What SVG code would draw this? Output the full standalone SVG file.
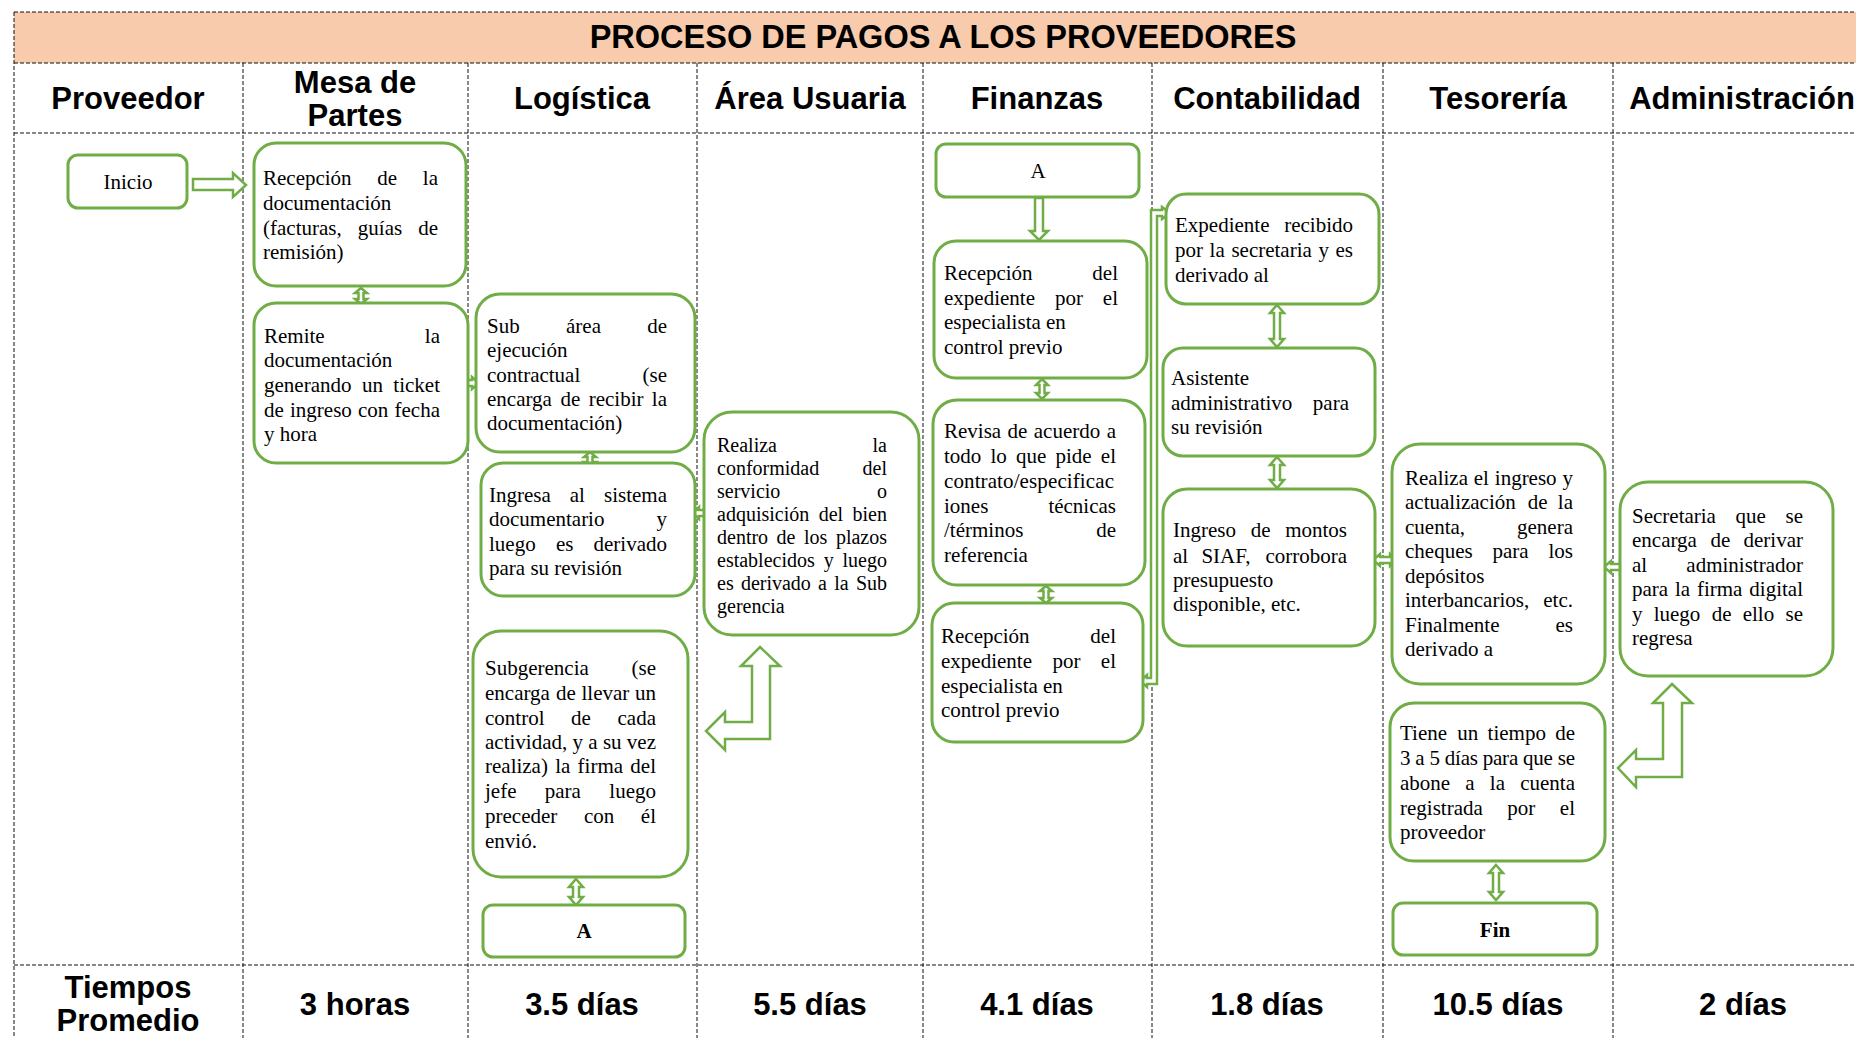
<svg xmlns="http://www.w3.org/2000/svg" width="1856" height="1038" viewBox="0 0 1856 1038">
<style>
.box{fill:#fff;stroke:#70AD47;stroke-width:3}
.t{font-family:"Liberation Serif","Times New Roman",serif;font-size:21px;fill:#000}
.t20{font-size:20px}
.b{font-weight:bold}
.e{text-anchor:end}
.m{text-anchor:middle}
.hd{font-family:"Liberation Sans",Arial,sans-serif;font-weight:bold;font-size:31px;text-anchor:middle;fill:#000}
.ti{font-size:32.5px}
.grid{stroke:#111;stroke-width:1;stroke-dasharray:4 2;fill:none}
.arr{fill:#fff;stroke:#70AD47;stroke-width:2.5;stroke-linejoin:miter}
</style>
<rect width="1856" height="1038" fill="#fff"/>
<g id="table">
<rect x="14" y="12" width="1860" height="51" fill="#F8CBAD"/>
<path class="grid" d="M14 12H1856M14 63H1856M14 133H1856M14 965H1856M14 12V1038M243 63V1038M468 63V1038M697 63V1038M923 63V1038M1152 63V1038M1383 63V1038M1613 63V1038"/>
<text class="hd ti" x="943" y="48">PROCESO DE PAGOS A LOS PROVEEDORES</text>
<text class="hd" x="128" y="109">Proveedor</text>
<text class="hd" x="355" y="93">Mesa de</text>
<text class="hd" x="355" y="126">Partes</text>
<text class="hd" x="582" y="109">Logística</text>
<text class="hd" x="810" y="109">Área Usuaria</text>
<text class="hd" x="1037" y="109">Finanzas</text>
<text class="hd" x="1267" y="109">Contabilidad</text>
<text class="hd" x="1498" y="109">Tesorería</text>
<text class="hd" x="1742" y="109">Administración</text>
<text class="hd" x="128" y="998">Tiempos</text>
<text class="hd" x="128" y="1031">Promedio</text>
<text class="hd" x="355" y="1015">3 horas</text>
<text class="hd" x="582" y="1015">3.5 días</text>
<text class="hd" x="810" y="1015">5.5 días</text>
<text class="hd" x="1037" y="1015">4.1 días</text>
<text class="hd" x="1267" y="1015">1.8 días</text>
<text class="hd" x="1498" y="1015">10.5 días</text>
<text class="hd" x="1743" y="1015">2 días</text>
</g>
<g id="connectors">
<polygon class="arr" points="193,179 233,179 233,173 246,185 233,197 233,190 193,190"/>
<polygon class="arr" points="361,288 367,293 363.5,293 363.5,299 367,299 361,304 355,299 358.5,299 358.5,293 355,293"/>
<polygon class="arr" points="456,383 463,377 463,380 472,380 472,377 479,383 472,389 472,386 463,386 463,389"/>
<polygon class="arr" points="590,452 596,457 592.5,457 592.5,462 596,462 590,467 584,462 587.5,462 587.5,457 584,457"/>
<polygon class="arr" points="693,513 699,507 699,510 705,510 705,507 711,513 705,519 705,516 699,516 699,519"/>
<polygon class="arr" points="760,647 780,666 770,666 770,739 725,739 725,750 706,731 725,712 725,722 752,722 752,666 741,666"/>
<polygon class="arr" points="576,879 583,887 579,887 579,897 583,897 576,905 569,897 573,897 573,887 569,887"/>
<polygon class="arr" points="1035,198 1043,198 1043,231 1048,231 1039,240 1030,231 1035,231"/>
<polygon class="arr" points="1042,379 1048,385 1044.5,385 1044.5,393 1048,393 1042,399 1036,393 1039.5,393 1039.5,385 1036,385"/>
<polygon class="arr" points="1046,586 1052,591 1048.5,591 1048.5,598 1052,598 1046,603 1040,598 1043.5,598 1043.5,591 1040,591"/>
<polygon class="arr" points="1140,681 1147,675 1147,678 1151,678 1151,210 1162,210 1162,207 1170,213 1162,219 1162,216 1157,216 1157,684 1147,684 1147,687"/>
<polygon class="arr" points="1277,305 1284,313 1280,313 1280,339 1284,339 1277,347 1270,339 1274,339 1274,313 1270,313"/>
<polygon class="arr" points="1277,457 1284,465 1280,465 1280,480 1284,480 1277,488 1270,480 1274,480 1274,465 1270,465"/>
<polygon class="arr" points="1373,560 1380,554 1380,557 1390,557 1390,554 1397,560 1390,566 1390,563 1380,563 1380,566"/>
<polygon class="arr" points="1604,567 1611,561 1611,564 1620,564 1620,561 1627,567 1620,573 1620,570 1611,570 1611,573"/>
<polygon class="arr" points="1672,684 1692,703 1682,703 1682,777 1636,777 1636,787 1618,768 1636,750 1636,759 1663,759 1663,703 1653,703"/>
<polygon class="arr" points="1496,865 1503,873 1499,873 1499,892 1503,892 1496,900 1489,892 1493,892 1493,873 1489,873"/>
</g>
<g id="inicio">
<rect class="box" x="68" y="155" width="119" height="53" rx="10"/>
<text class="t m" x="128" y="189">Inicio</text>
</g>
<g id="recepcion_documentacion">
<rect class="box" x="254" y="143" width="212" height="143" rx="22"/>
<text class="t" y="185"><tspan x="263">Recepción</tspan><tspan x="377.3">de</tspan><tspan x="438" class="e">la</tspan></text>
<text class="t" x="263" y="210">documentación</text>
<text class="t" y="235"><tspan x="263">(facturas,</tspan><tspan x="357.8">guías</tspan><tspan x="438" class="e">de</tspan></text>
<text class="t" x="263" y="259">remisión)</text>
</g>
<g id="remite">
<rect class="box" x="254" y="303" width="214" height="160" rx="22"/>
<text class="t" y="343"><tspan x="264">Remite</tspan><tspan x="440" class="e">la</tspan></text>
<text class="t" x="264" y="367">documentación</text>
<text class="t" y="392"><tspan x="264">generando</tspan><tspan x="361.9">un</tspan><tspan x="440" class="e">ticket</tspan></text>
<text class="t" y="417"><tspan x="264">de</tspan><tspan x="290">ingreso</tspan><tspan x="358">con</tspan><tspan x="440" class="e">fecha</tspan></text>
<text class="t" x="264" y="441">y hora</text>
</g>
<g id="sub_area">
<rect class="box" x="476" y="294" width="219" height="158" rx="24"/>
<text class="t" y="333"><tspan x="487">Sub</tspan><tspan x="566">área</tspan><tspan x="667" class="e">de</tspan></text>
<text class="t" x="487" y="357">ejecución</text>
<text class="t" y="382"><tspan x="487">contractual</tspan><tspan x="667" class="e">(se</tspan></text>
<text class="t" y="406"><tspan x="487">encarga</tspan><tspan x="560.6">de</tspan><tspan x="588.7">recibir</tspan><tspan x="667" class="e">la</tspan></text>
<text class="t" x="487" y="430">documentación)</text>
</g>
<g id="ingresa">
<rect class="box" x="481" y="463" width="214" height="133" rx="22"/>
<text class="t" y="502"><tspan x="489">Ingresa</tspan><tspan x="569.8">al</tspan><tspan x="667" class="e">sistema</tspan></text>
<text class="t" y="526"><tspan x="489">documentario</tspan><tspan x="667" class="e">y</tspan></text>
<text class="t" y="551"><tspan x="489">luego</tspan><tspan x="555.9">es</tspan><tspan x="667" class="e">derivado</tspan></text>
<text class="t" x="489" y="575">para su revisión</text>
</g>
<g id="conformidad">
<rect class="box" x="704" y="412" width="215" height="223" rx="28"/>
<text class="t t20" y="452"><tspan x="717">Realiza</tspan><tspan x="887" class="e">la</tspan></text>
<text class="t t20" y="475"><tspan x="717">conformidad</tspan><tspan x="887" class="e">del</tspan></text>
<text class="t t20" y="498"><tspan x="717">servicio</tspan><tspan x="887" class="e">o</tspan></text>
<text class="t t20" y="521"><tspan x="717">adquisición</tspan><tspan x="818.7">del</tspan><tspan x="887" class="e">bien</tspan></text>
<text class="t t20" y="544"><tspan x="717">dentro</tspan><tspan x="776.6">de</tspan><tspan x="804">los</tspan><tspan x="887" class="e">plazos</tspan></text>
<text class="t t20" y="567"><tspan x="717">establecidos</tspan><tspan x="823.7">y</tspan><tspan x="887" class="e">luego</tspan></text>
<text class="t t20" y="590"><tspan x="717">es</tspan><tspan x="740.9">derivado</tspan><tspan x="818.1">a</tspan><tspan x="834.2">la</tspan><tspan x="887" class="e">Sub</tspan></text>
<text class="t t20" x="717" y="613">gerencia</text>
</g>
<g id="subgerencia">
<rect class="box" x="473" y="631" width="215" height="246" rx="28"/>
<text class="t" y="675"><tspan x="485">Subgerencia</tspan><tspan x="656" class="e">(se</tspan></text>
<text class="t" y="700"><tspan x="485">encarga</tspan><tspan x="556">de</tspan><tspan x="581.5">llevar</tspan><tspan x="656" class="e">un</tspan></text>
<text class="t" y="725"><tspan x="485">control</tspan><tspan x="571.1">de</tspan><tspan x="656" class="e">cada</tspan></text>
<text class="t" y="749"><tspan x="485">actividad,</tspan><tspan x="572.5">y</tspan><tspan x="588.3">a</tspan><tspan x="602.9">su</tspan><tspan x="656" class="e">vez</tspan></text>
<text class="t" y="773"><tspan x="485">realiza)</tspan><tspan x="555.2">la</tspan><tspan x="577.6">firma</tspan><tspan x="656" class="e">del</tspan></text>
<text class="t" y="798"><tspan x="485">jefe</tspan><tspan x="544.8">para</tspan><tspan x="656" class="e">luego</tspan></text>
<text class="t" y="823"><tspan x="485">preceder</tspan><tspan x="583.9">con</tspan><tspan x="656" class="e">él</tspan></text>
<text class="t" x="485" y="848">envió.</text>
</g>
<g id="conector_a_logistica">
<rect class="box" x="483" y="905" width="202" height="52" rx="10"/>
<text class="t b m" x="584" y="938">A</text>
</g>
<g id="conector_a_finanzas">
<rect class="box" x="936" y="144" width="203" height="53" rx="10"/>
<text class="t m" x="1038" y="178">A</text>
</g>
<g id="recepcion_expediente_1">
<rect class="box" x="934" y="241" width="213" height="137" rx="22"/>
<text class="t" y="280"><tspan x="944">Recepción</tspan><tspan x="1118" class="e">del</tspan></text>
<text class="t" y="305"><tspan x="944">expediente</tspan><tspan x="1054.9">por</tspan><tspan x="1118" class="e">el</tspan></text>
<text class="t" x="944" y="329">especialista en</text>
<text class="t" x="944" y="354">control previo</text>
</g>
<g id="revisa">
<rect class="box" x="933" y="400" width="212" height="185" rx="24"/>
<text class="t" y="438"><tspan x="944">Revisa</tspan><tspan x="1007.6">de</tspan><tspan x="1033.8">acuerdo</tspan><tspan x="1116" class="e">a</tspan></text>
<text class="t" y="463"><tspan x="944">todo</tspan><tspan x="990.5">lo</tspan><tspan x="1016">que</tspan><tspan x="1055.5">pide</tspan><tspan x="1116" class="e">el</tspan></text>
<text class="t" x="944" y="488" textLength="170" lengthAdjust="spacing">contrato/especificac</text>
<text class="t" y="513"><tspan x="944">iones</tspan><tspan x="1116" class="e">técnicas</tspan></text>
<text class="t" y="537"><tspan x="944">/términos</tspan><tspan x="1116" class="e">de</tspan></text>
<text class="t" x="944" y="562">referencia</text>
</g>
<g id="recepcion_expediente_2">
<rect class="box" x="932" y="603" width="211" height="139" rx="22"/>
<text class="t" y="643"><tspan x="941">Recepción</tspan><tspan x="1116" class="e">del</tspan></text>
<text class="t" y="668"><tspan x="941">expediente</tspan><tspan x="1052.4">por</tspan><tspan x="1116" class="e">el</tspan></text>
<text class="t" x="941" y="693">especialista en</text>
<text class="t" x="941" y="717">control previo</text>
</g>
<g id="expediente">
<rect class="box" x="1166" y="194" width="213" height="110" rx="20"/>
<text class="t" y="232"><tspan x="1175">Expediente</tspan><tspan x="1353" class="e">recibido</tspan></text>
<text class="t" y="257"><tspan x="1175">por</tspan><tspan x="1209.6">la</tspan><tspan x="1231.4">secretaria</tspan><tspan x="1318.5">y</tspan><tspan x="1353" class="e">es</tspan></text>
<text class="t" x="1175" y="282">derivado al</text>
</g>
<g id="asistente">
<rect class="box" x="1163" y="348" width="212" height="108" rx="20"/>
<text class="t" x="1171" y="385">Asistente</text>
<text class="t" y="410"><tspan x="1171">administrativo</tspan><tspan x="1349" class="e">para</tspan></text>
<text class="t" x="1171" y="434">su revisión</text>
</g>
<g id="ingreso_montos">
<rect class="box" x="1163" y="489" width="212" height="157" rx="24"/>
<text class="t" y="537"><tspan x="1173">Ingreso</tspan><tspan x="1250.7">de</tspan><tspan x="1347" class="e">montos</tspan></text>
<text class="t" y="563"><tspan x="1173">al</tspan><tspan x="1201.4">SIAF,</tspan><tspan x="1347" class="e">corrobora</tspan></text>
<text class="t" x="1173" y="587">presupuesto</text>
<text class="t" x="1173" y="611">disponible, etc.</text>
</g>
<g id="realiza_ingreso">
<rect class="box" x="1392" y="444" width="213" height="240" rx="28"/>
<text class="t" y="485"><tspan x="1405">Realiza</tspan><tspan x="1473.8">el</tspan><tspan x="1494.8">ingreso</tspan><tspan x="1573" class="e">y</tspan></text>
<text class="t" y="509"><tspan x="1405">actualización</tspan><tspan x="1527.7">de</tspan><tspan x="1573" class="e">la</tspan></text>
<text class="t" y="534"><tspan x="1405">cuenta,</tspan><tspan x="1573" class="e">genera</tspan></text>
<text class="t" y="558"><tspan x="1405">cheques</tspan><tspan x="1492.5">para</tspan><tspan x="1573" class="e">los</tspan></text>
<text class="t" x="1405" y="583">depósitos</text>
<text class="t" y="607"><tspan x="1405">interbancarios,</tspan><tspan x="1573" class="e">etc.</tspan></text>
<text class="t" y="632"><tspan x="1405">Finalmente</tspan><tspan x="1573" class="e">es</tspan></text>
<text class="t" x="1405" y="656">derivado a</text>
</g>
<g id="tiene_tiempo">
<rect class="box" x="1390" y="703" width="215" height="158" rx="24"/>
<text class="t" y="740"><tspan x="1400">Tiene</tspan><tspan x="1457.2">un</tspan><tspan x="1487.6">tiempo</tspan><tspan x="1575" class="e">de</tspan></text>
<text class="t" x="1400" y="765" textLength="175" lengthAdjust="spacing">3 a 5 días para que se</text>
<text class="t" y="790"><tspan x="1400">abone</tspan><tspan x="1465.3">a</tspan><tspan x="1489.8">la</tspan><tspan x="1575" class="e">cuenta</tspan></text>
<text class="t" y="815"><tspan x="1400">registrada</tspan><tspan x="1507.3">por</tspan><tspan x="1575" class="e">el</tspan></text>
<text class="t" x="1400" y="839">proveedor</text>
</g>
<g id="fin">
<rect class="box" x="1393" y="903" width="204" height="52" rx="10"/>
<text class="t b m" x="1495" y="937">Fin</text>
</g>
<g id="secretaria">
<rect class="box" x="1620" y="482" width="213" height="194" rx="28"/>
<text class="t" y="523"><tspan x="1632">Secretaria</tspan><tspan x="1735.6">que</tspan><tspan x="1803" class="e">se</tspan></text>
<text class="t" y="547"><tspan x="1632">encarga</tspan><tspan x="1710.5">de</tspan><tspan x="1803" class="e">derivar</tspan></text>
<text class="t" y="572"><tspan x="1632">al</tspan><tspan x="1803" class="e">administrador</tspan></text>
<text class="t" y="596"><tspan x="1632">para</tspan><tspan x="1674.9">la</tspan><tspan x="1696.9">firma</tspan><tspan x="1803" class="e">digital</tspan></text>
<text class="t" y="621"><tspan x="1632">y</tspan><tspan x="1653.7">luego</tspan><tspan x="1711.7">de</tspan><tspan x="1742.7">ello</tspan><tspan x="1803" class="e">se</tspan></text>
<text class="t" x="1632" y="645">regresa</text>
</g>
</svg>
